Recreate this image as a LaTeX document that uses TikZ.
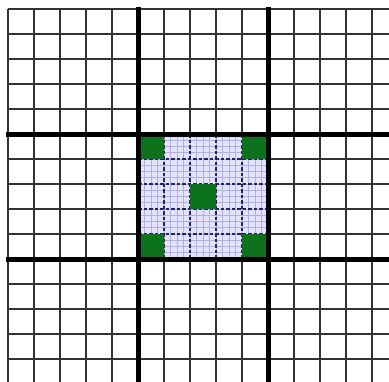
\documentclass[tikz,border=0pt]{standalone}
\definecolor{gridgray}{rgb}{0.2,0.2,0.2}
\definecolor{lav}{RGB}{228,226,250}
\definecolor{fineblue}{RGB}{175,175,225}
\definecolor{navy}{RGB}{35,35,95}
\definecolor{cellgreen}{RGB}{12,115,28}
\tikzset{
  regline/.style={line width=2.8pt, draw=gridgray},
  thickline/.style={line width=5pt, draw=black},
  fineline/.style={line width=0.6pt, draw=fineblue},
  dashline/.style={line width=2.2pt, draw=navy, dash pattern=on 3.5pt off 2pt},
  greencell/.style={fill=cellgreen}
}
\begin{document}
\begin{tikzpicture}[x=1pt,y=-1pt]
\useasboundingbox (0,0) rectangle (389,381);
\clip (0,0) rectangle (389,381);
\fill[white] (0,0) rectangle (389,381);
% regular grid
\foreach \i in {0,...,15} {
  \draw[regline] ({8+26*\i},9) -- ({8+26*\i},400);
  \draw[regline] (8,{9+25*\i}) -- (400,{9+25*\i});
}
% centre block
\fill[lav] (138,134) rectangle (268,259);
\foreach \k in {1,...,19} {
  \draw[fineline] ({138+6.5*\k},134) -- ({138+6.5*\k},259);
  \draw[fineline] (138,{134+6.25*\k}) -- (268,{134+6.25*\k});
}
\foreach \k in {6,...,9} {
  \draw[dashline] ({8+26*\k},134) -- ({8+26*\k},259);
  \draw[dashline] (138,{9+25*\k}) -- (268,{9+25*\k});
}
% green cells
\fill[greencell] (138,134) rectangle (164,159);
\fill[greencell] (242,134) rectangle (268,159);
\fill[greencell] (138,234) rectangle (164,259);
\fill[greencell] (242,234) rectangle (268,259);
\fill[greencell] (190,184) rectangle (216,209);
% thick block lines
\foreach \k in {5,10} {
  \draw[thickline] ({8+26*\k},6.5) -- ({8+26*\k},400);
  \draw[thickline] (6.4,{9+25*\k}) -- (400,{9+25*\k});
}
\end{tikzpicture}
\end{document}
